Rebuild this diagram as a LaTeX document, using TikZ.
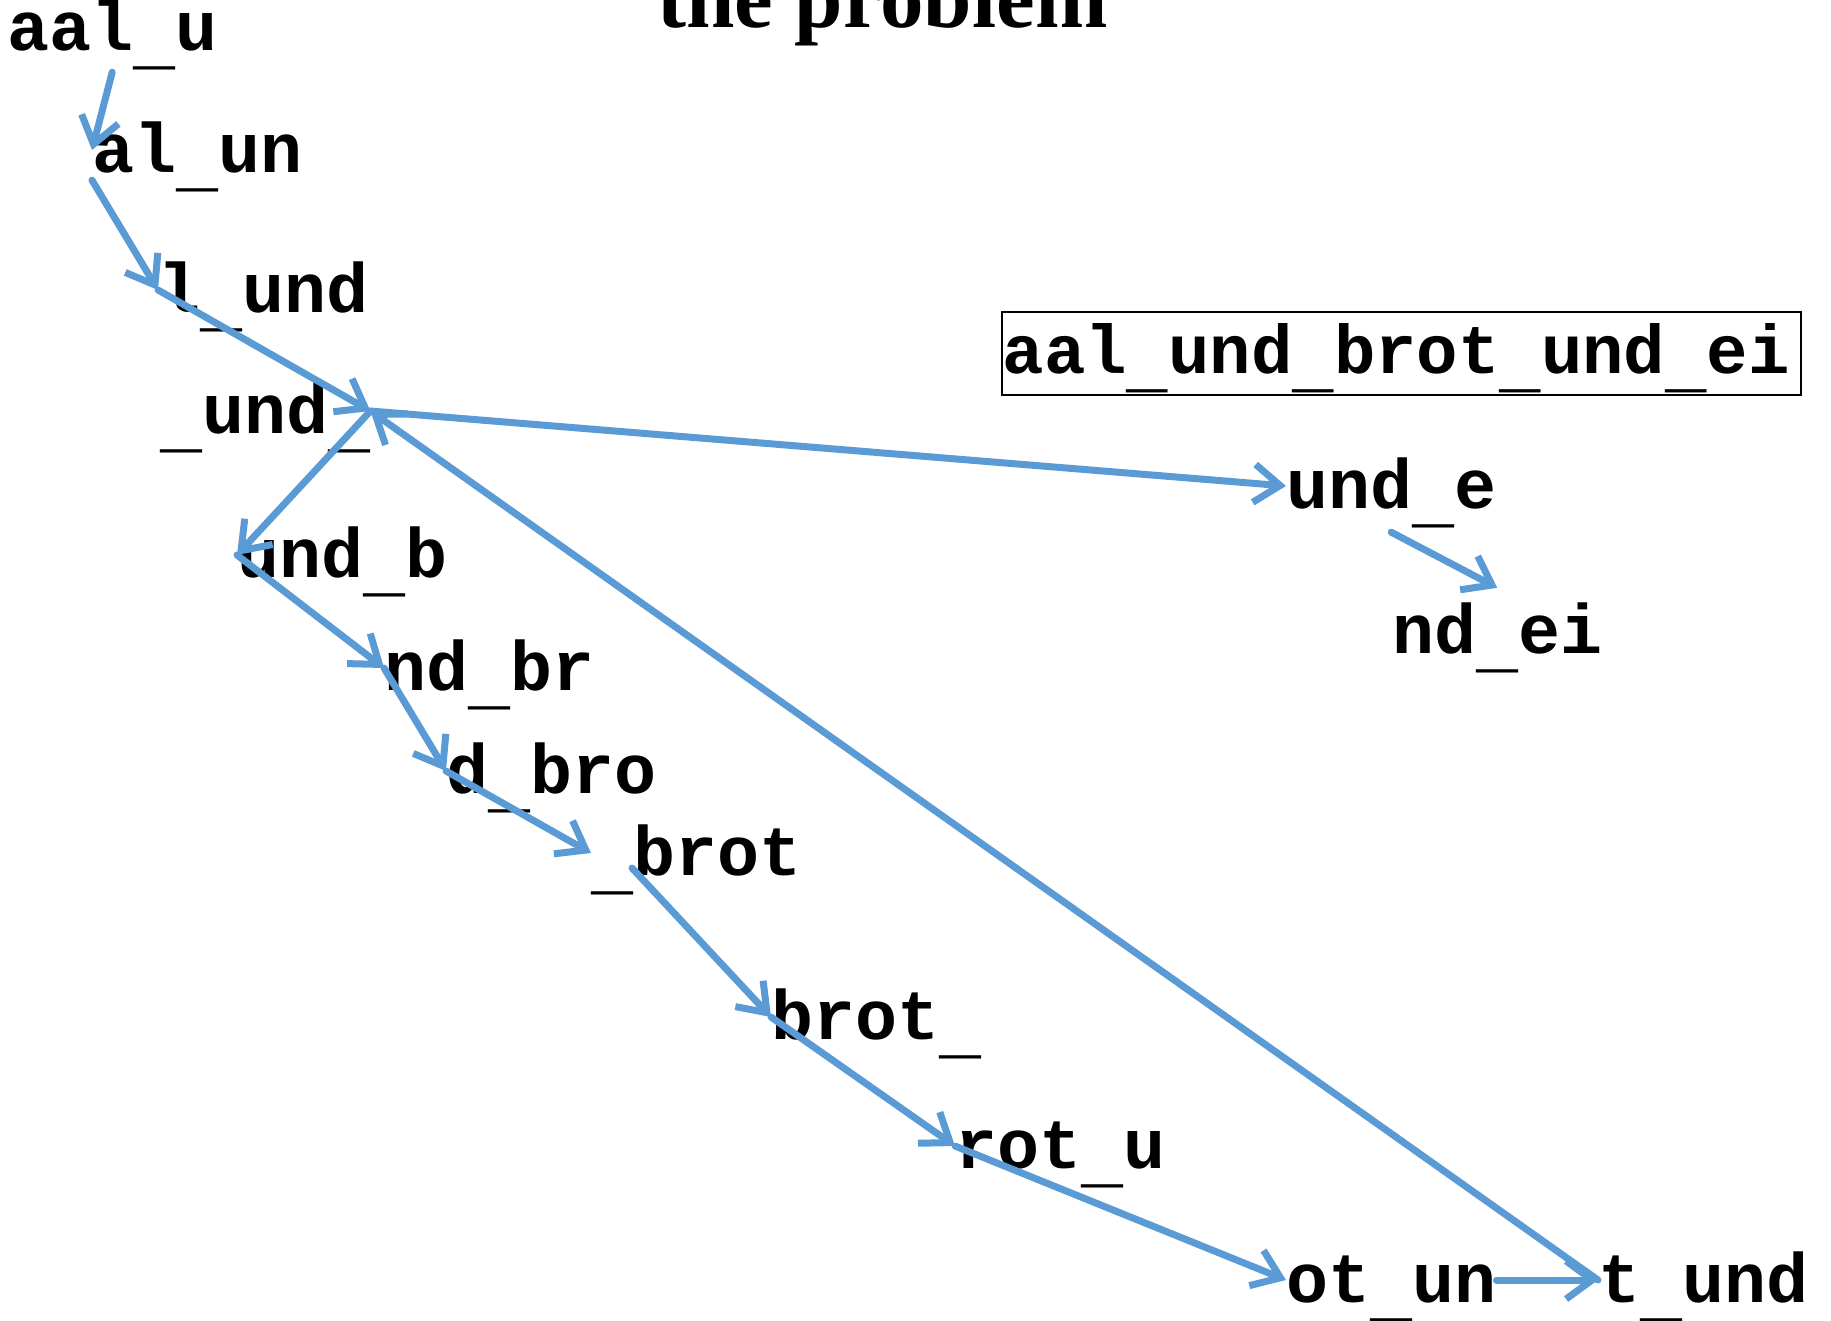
\documentclass[tikz,border=0pt]{standalone}
\usepackage{fontspec}
\setmainfont{Liberation Serif}
\newfontfamily\wordfont{Liberation Mono}
\usetikzlibrary{arrows.meta,calc}
\definecolor{linkblue}{HTML}{5B9BD5}
% underscore set a little below the baseline
\newcommand{\us}{\raisebox{-12pt}{\_}}
\tikzset{
  word/.style={inner sep=0pt, anchor=base west, text height=52pt, text depth=8pt,
    font=\wordfont\bfseries\fontsize{70}{70}\selectfont},
  conn/.style={draw=linkblue, line width=7pt, line cap=round,
    -{Straight Barb[length=26pt, width=38pt]}},
}
\begin{document}
\begin{tikzpicture}[x=1pt, y=-1pt]
  \useasboundingbox (0,0) rectangle (1831,1320);
  \clip (0,0) rectangle (1831,1320);
  % heading, partly above the top edge
  \node[inner sep=0pt, anchor=base west, font=\bfseries\fontsize{87}{87}\selectfont]
    (title) at (657,27) {the problem};
  % the whole string
  \node[word, draw=black, line width=1.5pt, inner xsep=1pt, text width=797pt,
    text height=61pt, text depth=22pt, align=left,
    font=\wordfont\bfseries\fontsize{69}{69}\selectfont]
    (full) at (1001,373) {aal\us und\us brot\us und\us ei};
  % the five-letter windows
  \node[word] (w1)  at (7,50)     {aal\us u};
  \node[word] (w2)  at (92,172)   {al\us un};
  \node[word] (w3)  at (158,312)  {l\us und};
  \node[word] (w4)  at (160,433)  {\us und\us};
  \node[word] (w5)  at (237,577)  {und\us b};
  \node[word] (w6)  at (384,690)  {nd\us br};
  \node[word] (w7)  at (446,793)  {d\us bro};
  \node[word] (w8)  at (591,875)  {\us brot};
  \node[word] (w9)  at (771,1039) {brot\us};
  \node[word] (w10) at (955,1168) {rot\us u};
  \node[word] (w11) at (1286,1302){ot\us un};
  \node[word] (w12) at (1598,1302){t\us und};
  \node[word] (w13) at (1286,508) {und\us e};
  \node[word] (w14) at (1392,653) {nd\us ei};
  % links between consecutive windows
  \draw[conn] ([yshift=-14pt]w1.south) -- (w2.west);
  \draw[conn] (w2.south west) -- (w3.west);
  \draw[conn] (w3.west) -- (w4.east);
  \draw[conn] (w4.east) -- (w13.west);
  \draw[conn] (w4.east) -- (w5.west);
  \draw[conn] (w5.west) -- (w6.west);
  \draw[conn] (w6.west) -- (w7.west);
  \draw[conn] (w7.west) -- (w8.west);
  \draw[conn] ($(w8.base west)+(41,-7)$) -- (w9.west);
  \draw[conn] (w9.west) -- (w10.west);
  \draw[conn] (w10.west) -- (w11.west);
  \draw[conn] (w11.east) -- (w12.west);
  \draw[conn] (w12.west) -- (w4.east);
  \draw[conn] ([yshift=-16pt]w13.south) -- ([yshift=13pt]w14.north);
\end{tikzpicture}
\end{document}
